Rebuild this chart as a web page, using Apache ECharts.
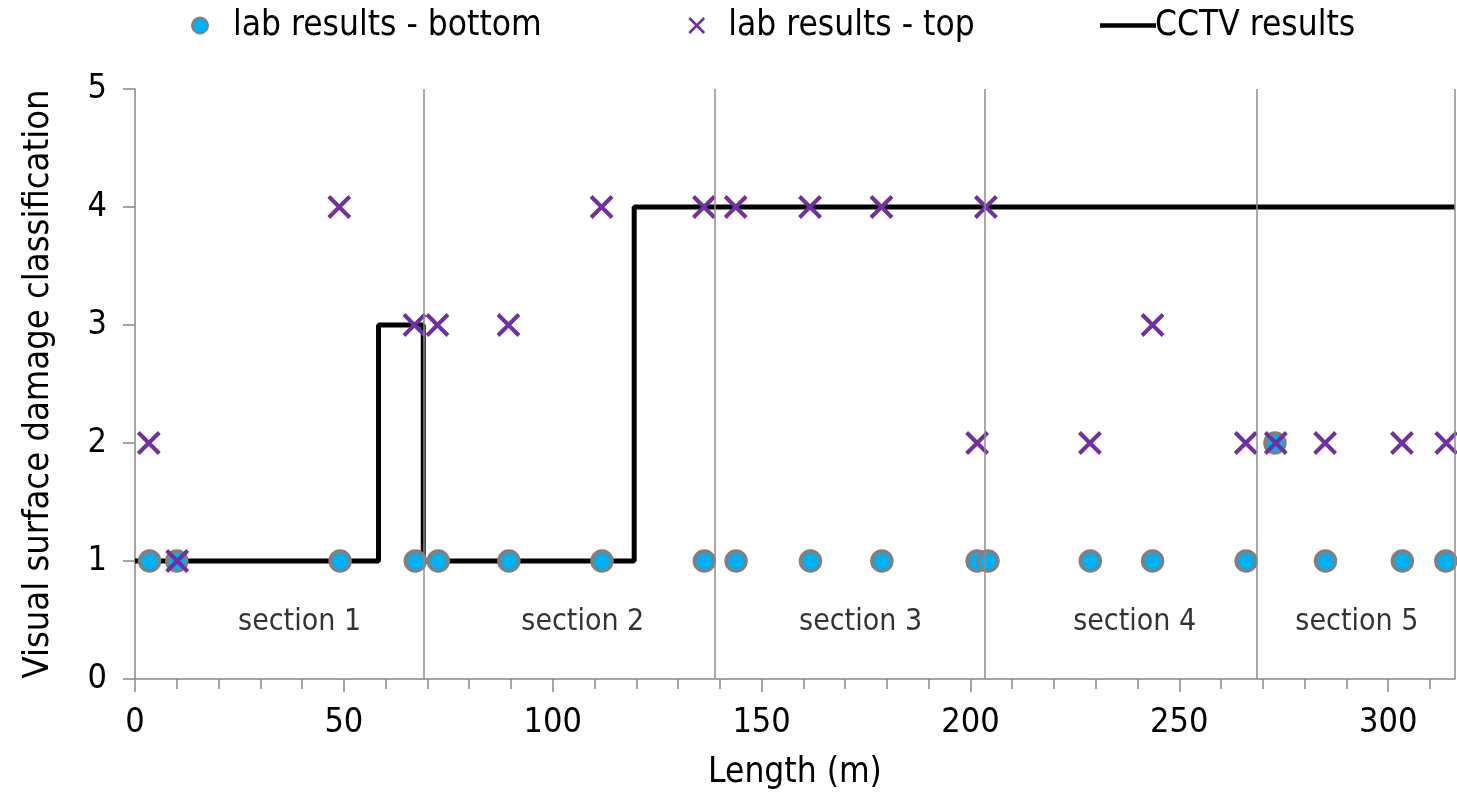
<!DOCTYPE html>
<html>
<head>
<meta charset="utf-8">
<script src="https://cdn.jsdelivr.net/npm/echarts@6/dist/echarts.min.js"></script>
<style>
html, body { margin: 0; padding: 0; background: #fff; }
#chart { width: 1457px; height: 800px; }
</style>
</head>
<body>
<div id="chart"></div>
<script>
// lab results - bottom : [length (m), class]
var bottomData = [
  [3.5, 1], [10.0, 1], [49.1, 1], [67.1, 1], [72.6, 1], [89.5, 1], [111.8, 1],
  [136.3, 1], [143.9, 1], [161.7, 1], [178.8, 1], [201.6, 1], [204.2, 1],
  [228.7, 1], [243.6, 1], [266.0, 1], [272.9, 2], [285.0, 1], [303.4, 1], [313.8, 1]
]
// lab results - top
var topData = [
  [3.3, 2], [10.1, 1], [48.9, 4], [66.9, 3], [72.4, 3], [89.4, 3], [111.7, 4],
  [136.2, 4], [143.8, 4], [161.6, 4], [178.7, 4], [201.6, 2], [203.7, 4],
  [228.6, 2], [243.6, 3], [265.9, 2], [273.1, 2], [284.9, 2], [303.3, 2], [313.9, 2]
]
// CCTV results, step changes (value holds until next x)
var cctvData = [[0, 1], [58.3, 3], [69.0, 1], [119.5, 4], [316, 4]]

var sectionBounds = [69.1, 138.9, 203.5, 268.5, 316]
var sectionNames = ['section 1', 'section 2', 'section 3', 'section 4', 'section 5']
var sectionLabelX = [39.4, 107.2, 173.7, 239.3, 292.5]
var sectionLabelY = 0.48

var xMajorTicks = [0, 50, 100, 150, 200, 250, 300]
var xMinorTicks = [0, 10, 20, 30, 40, 50, 60, 70, 80, 90, 100, 110, 120, 130, 140, 150,
  160, 170, 180, 190, 200, 210, 220, 230, 240, 250, 260, 270, 280, 290, 300, 310]

var FONT = 'DejaVu Sans Condensed, DejaVu Sans, sans-serif'
var AXIS_GREY = '#868686'
var CROSS = 'path://M0,0L10,10M10,0L0,10'

var chart = echarts.init(document.getElementById('chart'))

var labelPoints = []
for (var i = 0; i < sectionNames.length; i++) {
  labelPoints.push({ name: sectionNames[i], value: [sectionLabelX[i], sectionLabelY] })
}
var boundLines = sectionBounds.map(function (b) { return { xAxis: b } })

chart.setOption({
  backgroundColor: '#fff',
  animation: false,
  textStyle: { fontFamily: FONT },
  legend: [
    {
      left: 186, top: 3,
      data: [{ name: 'lab results - bottom', icon: 'circle' }],
      itemWidth: 16, itemHeight: 16,
      textStyle: { fontFamily: FONT, fontSize: 35, color: '#000', padding: [0, 0, 0, 20] }
    },
    {
      left: 683, top: 3,
      data: [{ name: 'lab results - top', icon: CROSS, itemStyle: { borderWidth: 2.5, borderColor: '#7030A0' } }],
      itemWidth: 15, itemHeight: 15,
      textStyle: { fontFamily: FONT, fontSize: 35, color: '#000', padding: [0, 0, 0, 19] }
    },
    {
      left: 1095, top: 3,
      data: [{ name: 'CCTV results', icon: 'rect' }],
      itemWidth: 56, itemHeight: 4.5,
      textStyle: { fontFamily: FONT, fontSize: 35, color: '#000', padding: [0, 0, 0, -6] }
    }
  ],
  grid: { left: 135, right: 2, top: 89, bottom: 121, containLabel: false },
  xAxis: [
    {
      type: 'value', min: 0, max: 316, interval: 50,
      name: 'Length (m)', nameLocation: 'middle', nameGap: 76,
      nameTextStyle: { fontFamily: FONT, fontSize: 35, color: '#000' },
      axisLine: { show: true, lineStyle: { color: AXIS_GREY, width: 1.5 } },
      axisTick: { show: true, inside: false, length: 13, customValues: xMajorTicks, lineStyle: { color: AXIS_GREY, width: 1.5 } },
      axisLabel: { customValues: xMajorTicks, fontSize: 34, color: '#000', margin: 27, fontFamily: FONT },
      splitLine: { show: false }
    },
    {
      type: 'value', min: 0, max: 316, position: 'bottom',
      axisLine: { show: false },
      axisTick: { show: true, inside: false, length: 10, customValues: xMinorTicks, lineStyle: { color: AXIS_GREY, width: 1.5 } },
      axisLabel: { show: false },
      splitLine: { show: false }
    }
  ],
  yAxis: {
    type: 'value', min: 0, max: 5, interval: 1,
    name: 'Visual surface damage classification', nameLocation: 'middle', nameGap: 78,
    nameTextStyle: { fontFamily: FONT, fontSize: 36, color: '#000' },
    axisLine: { show: true, lineStyle: { color: AXIS_GREY, width: 1.5 } },
    axisTick: { show: true, inside: false, length: 12, lineStyle: { color: AXIS_GREY, width: 1.5 } },
    axisLabel: { fontSize: 34, color: '#000', margin: 28, fontFamily: FONT },
    splitLine: { show: false }
  },
  series: [
    {
      name: 'sections',
      type: 'scatter',
      z: 1,
      symbolSize: 0,
      silent: true,
      data: labelPoints,
      label: {
        show: true, position: 'inside', formatter: '{b}',
        fontFamily: FONT, fontSize: 30, color: '#000'
      },
      markLine: {
        silent: true,
        symbol: 'none',
        label: { show: false },
        lineStyle: { color: '#8c8c8c', width: 1.5, type: 'solid' },
        data: boundLines
      }
    },
    {
      name: 'CCTV results',
      type: 'line',
      z: 2,
      step: 'end',
      showSymbol: false,
      symbol: 'none',
      data: cctvData,
      itemStyle: { color: '#000' },
      lineStyle: { color: '#000', width: 5 }
    },
    {
      name: 'lab results - bottom',
      type: 'scatter',
      z: 3,
      symbol: 'circle',
      symbolSize: 20,
      data: bottomData,
      itemStyle: { color: '#00B0F0', borderColor: '#808080', borderWidth: 3.5, opacity: 1 }
    },
    {
      name: 'lab results - top',
      type: 'scatter',
      z: 4,
      symbol: CROSS,
      symbolSize: 21,
      data: topData,
      itemStyle: { color: '#7030A0', borderColor: '#7030A0', borderWidth: 4, opacity: 1 }
    }
  ]
})
</script>
</body>
</html>
